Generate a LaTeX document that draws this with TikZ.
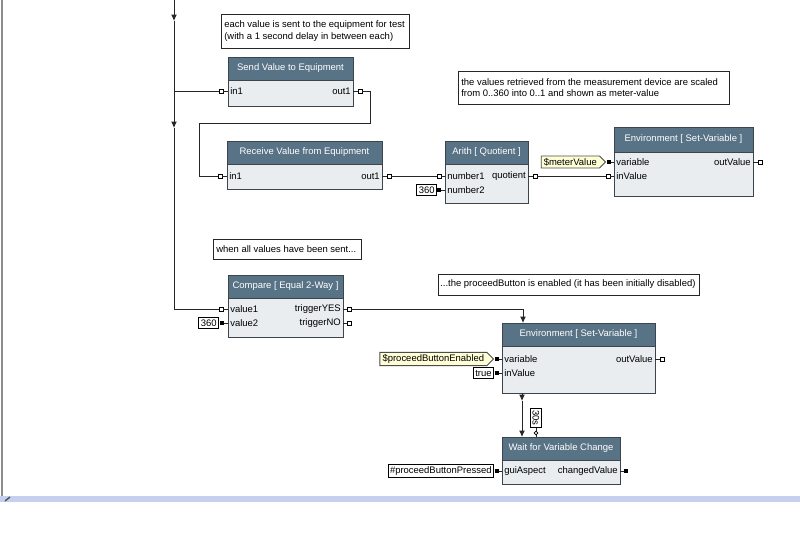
\documentclass[tikz,border=0pt]{standalone}
\usepackage{fontspec}
\setmainfont{Liberation Sans}
\usetikzlibrary{arrows.meta,shapes.symbols}
\definecolor{hdrblue}{RGB}{88,114,134}
\definecolor{bodygray}{RGB}{233,237,240}
\definecolor{edgegray}{RGB}{60,68,76}
\definecolor{tagyellow}{RGB}{255,255,214}
\definecolor{barblue}{RGB}{197,208,238}
\begin{document}
\begin{tikzpicture}[x=0.75pt,y=0.75pt,yscale=-1,xscale=1,
    txt/.style={font=\fontsize{7.1}{8.8}\selectfont, inner sep=0pt},
    hdrtxt/.style={txt, text=white},
    hdrbox/.style={draw=edgegray, fill=hdrblue, line width=0.6pt},
    bodybox/.style={draw=edgegray, fill=bodygray, line width=0.6pt},
    oport/.style={draw=black, fill=white, line width=0.5pt, minimum size=2.8pt, inner sep=0pt},
    bport/.style={fill=black, minimum size=3.2pt, inner sep=0pt},
    cport/.style={draw=black, fill=white, circle, line width=0.5pt, minimum size=2.8pt, inner sep=0pt},
    constbox/.style={txt, draw=black, fill=white, line width=0.6pt, inner xsep=1.5pt, inner ysep=1.6pt},
    tagbox/.style={txt, draw=black!70, fill=tagyellow, signal, signal to=east, line width=0.6pt, inner xsep=2pt, inner ysep=1.6pt},
    notebox/.style={draw=black!85, fill=white, line width=0.6pt},
    wire/.style={draw=black!85, line width=0.7pt},
    arr/.style={wire, -{Latex[length=4.8pt,width=4.4pt]}}
  ]
    \useasboundingbox (0,0) rectangle (800,553);

    %window frame
    \draw [black!45, line width=1pt] (2,0) -- (2,496) ;
    \fill [barblue] (0,496) rectangle (800,502) ;
    \draw [black!70, line width=1pt] (5,501) -- (10,497) ;

    %Notes
    \draw [notebox] (221,14) rectangle (409,48) ;
    \node [txt, anchor=west, align=left] (noteSend) at (224,31) {each value is sent to the equipment for test\\(with a 1 second delay in between each)};
    \draw [notebox] (458,71) rectangle (729,104) ;
    \node [txt, anchor=west, align=left] (noteScale) at (461,87.5) {the values retrieved from the measurement device are scaled\\from 0..360 into 0..1 and shown as meter-value};
    \draw [notebox] (213,239) rectangle (361,259) ;
    \node [txt, anchor=west] (noteSent) at (216,249) {when all values have been sent...};
    \draw [notebox] (438,274) rectangle (699,295) ;
    \node [txt, anchor=west] (noteEnable) at (440,284.5) {...the proceedButton is enabled (it has been initially disabled)};

    %Block: Send Value to Equipment
    \draw [hdrbox] (228,57) rectangle (353,80) ;
    \draw [bodybox] (228,80) rectangle (353,106) ;
    \node [hdrtxt] (sendT) at (290.5,68.5) {Send Value to Equipment};
    \node [txt, anchor=west] (sendIn) at (230,91) {in1};
    \node [txt, anchor=east] (sendOut) at (351,91) {out1};
    \node [oport] (send-in1) at (221,91) {};
    \node [oport] (send-out1) at (360,91) {};
    \draw [wire] (send-in1) -- (228,91) ;
    \draw [wire] (353,91) -- (send-out1) ;

    %Block: Receive Value from Equipment
    \draw [hdrbox] (227,141) rectangle (382,164) ;
    \draw [bodybox] (227,164) rectangle (382,189) ;
    \node [hdrtxt] (recvT) at (304.5,152.5) {Receive Value from Equipment};
    \node [txt, anchor=west] (recvIn) at (229,176) {in1};
    \node [txt, anchor=east] (recvOut) at (380,176) {out1};
    \node [oport] (recv-in1) at (220,176) {};
    \node [oport] (recv-out1) at (389,176) {};
    \draw [wire] (recv-in1) -- (227,176) ;
    \draw [wire] (382,176) -- (recv-out1) ;

    %Block: Arith [ Quotient ]
    \draw [hdrbox] (445,141) rectangle (528,164) ;
    \draw [bodybox] (445,164) rectangle (528,203) ;
    \node [hdrtxt] (arithT) at (486.5,152.5) {Arith [ Quotient ]};
    \node [txt, anchor=west] (arithN1) at (447,176) {number1};
    \node [txt, anchor=west] (arithN2) at (447,190) {number2};
    \node [txt, anchor=east] (arithQ) at (526,176) {quotient};
    \node [oport] (arith-n1) at (439,176) {};
    \node [bport] (arith-n2) at (439,190) {};
    \node [oport] (arith-q) at (535,176) {};
    \node [constbox, anchor=east] (c360a) at (437,190) {360};
    \draw [wire] (arith-n1) -- (445,176) ;
    \draw [wire] (arith-n2) -- (445,190) ;
    \draw [wire] (528,176) -- (arith-q) ;

    %Block: Environment [ Set-Variable ] (meter)
    \draw [hdrbox] (614,127) rectangle (753,152) ;
    \draw [bodybox] (614,152) rectangle (753,196) ;
    \node [hdrtxt] (envAT) at (683.5,139.5) {Environment [ Set-Variable ]};
    \node [txt, anchor=west] (envAVar) at (616,162) {variable};
    \node [txt, anchor=west] (envAIn) at (616,176) {inValue};
    \node [txt, anchor=east] (envAOut) at (751,162) {outValue};
    \node [bport] (envA-var) at (609,162) {};
    \node [oport] (envA-in) at (608,176) {};
    \node [oport] (envA-out) at (760,162) {};
    \node [tagbox, anchor=east] (tagMeter) at (606,162) {\$meterValue};
    \draw [wire] (envA-var) -- (614,162) ;
    \draw [wire] (envA-in) -- (614,176) ;
    \draw [wire] (753,162) -- (envA-out) ;

    %Block: Compare [ Equal 2-Way ]
    \draw [hdrbox] (228,275) rectangle (343,298) ;
    \draw [bodybox] (228,298) rectangle (343,337) ;
    \node [hdrtxt] (cmpT) at (285.5,286.5) {Compare [ Equal 2-Way ]};
    \node [txt, anchor=west] (cmpV1) at (230,309) {value1};
    \node [txt, anchor=west] (cmpV2) at (230,323) {value2};
    \node [txt, anchor=east] (cmpYes) at (341,309) {triggerYES};
    \node [txt, anchor=east] (cmpNo) at (341,323) {triggerNO};
    \node [oport] (cmp-v1) at (221,309) {};
    \node [bport] (cmp-v2) at (222,323) {};
    \node [oport] (cmp-yes) at (349,309) {};
    \node [oport] (cmp-no) at (349,323) {};
    \node [constbox, anchor=east] (c360b) at (219,323) {360};
    \draw [wire] (cmp-v1) -- (228,309) ;
    \draw [wire] (cmp-v2) -- (228,323) ;
    \draw [wire] (343,309) -- (cmp-yes) ;
    \draw [wire] (343,323) -- (cmp-no) ;

    %Block: Environment [ Set-Variable ] (button)
    \draw [hdrbox] (502,323) rectangle (655,346) ;
    \draw [bodybox] (502,346) rectangle (655,393) ;
    \node [hdrtxt] (envBT) at (578.5,334.5) {Environment [ Set-Variable ]};
    \node [txt, anchor=west] (envBVar) at (504,359) {variable};
    \node [txt, anchor=west] (envBIn) at (504,373) {inValue};
    \node [txt, anchor=east] (envBOut) at (653,359) {outValue};
    \node [bport] (envB-var) at (497,359) {};
    \node [bport] (envB-in) at (497,373) {};
    \node [oport] (envB-out) at (662,359) {};
    \node [tagbox, anchor=east] (tagEnabled) at (494,359) {\$proceedButtonEnabled};
    \node [constbox, anchor=east] (cTrue) at (494,373) {true};
    \coordinate (envB-top) at (523,323);
    \coordinate (envB-bot) at (522,393);
    \draw [wire] (envB-var) -- (502,359) ;
    \draw [wire] (envB-in) -- (502,373) ;
    \draw [wire] (655,359) -- (envB-out) ;

    %Block: Wait for Variable Change
    \draw [hdrbox] (502,437) rectangle (620,460) ;
    \draw [bodybox] (502,460) rectangle (620,484) ;
    \node [hdrtxt] (waitT) at (561,448.5) {Wait for Variable Change};
    \node [txt, anchor=west] (waitGui) at (504,471) {guiAspect};
    \node [txt, anchor=east] (waitChg) at (618,471) {changedValue};
    \node [bport] (wait-gui) at (497,471) {};
    \node [bport] (wait-chg) at (626,471) {};
    \node [cport] (wait-tmo) at (536,433) {};
    \node [constbox, anchor=west] (cDelay) at (536,408) [rotate=-90] {30s};
    \node [constbox, anchor=east] (cGui) at (494,471) {\#proceedButtonPressed};
    \coordinate (wait-top) at (522,437);
    \draw [wire] (wait-gui) -- (502,471) ;
    \draw [wire] (620,471) -- (wait-chg) ;

    %Flow lines
    \coordinate (flowTop) at (174,0);
    \coordinate (flowA) at (174,21);
    \coordinate (flowSplit) at (174,91);
    \coordinate (flowB) at (174,128);
    \coordinate (flowEnd) at (174,309);
    \draw [arr] (flowTop) -- (flowA) ;
    \draw [arr] (flowA) -- (flowB) ;
    \draw [wire] (flowB) -- (flowEnd) -- (cmp-v1) ;
    \draw [wire] (flowSplit) -- (send-in1) ;
    \draw [wire] (send-out1) -| (370,123) -| (199,176) -- (recv-in1) ;
    \draw [wire] (recv-out1) -- (arith-n1) ;
    \draw [wire] (arith-q) -- (envA-in) ;
    \draw [arr] (cmp-yes) -| (envB-top) ;
    \draw [arr] (envB-bot) -- (522,401) ;
    \draw [arr] (522,401) -- (wait-top) ;
    \draw [wire] (cDelay) -- (wait-tmo) -- (536,437) ;

\end{tikzpicture}
\end{document}
